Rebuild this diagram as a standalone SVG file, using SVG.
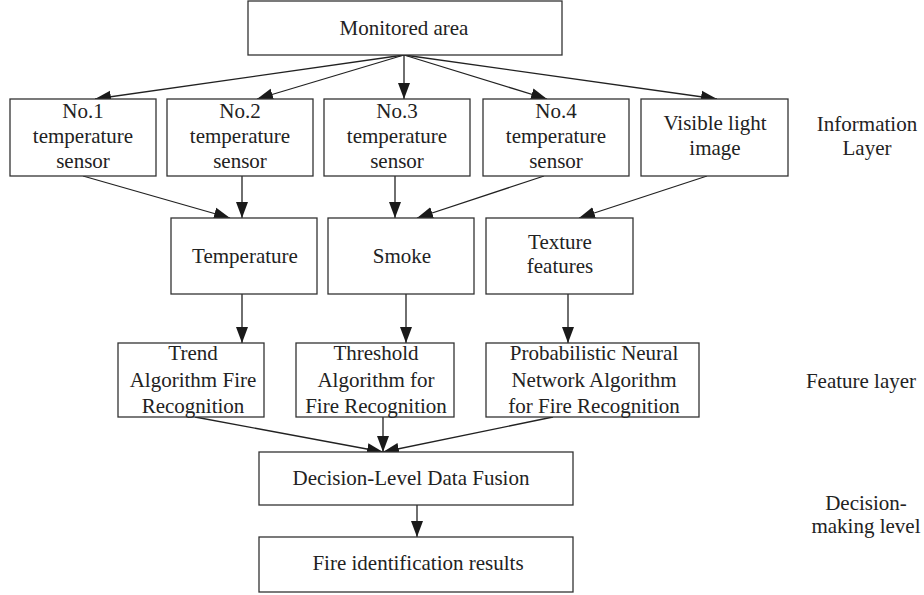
<svg xmlns="http://www.w3.org/2000/svg" width="924" height="595" viewBox="0 0 924 595">
<style>
.box{fill:#fff;stroke:#333;stroke-width:1.3}
.t{font-size:21px;fill:#222;text-anchor:middle}
.c{stroke:#222;stroke-width:1.3;fill:none;marker-end:url(#ah)}
</style>
<defs>
<marker id="ah" markerUnits="userSpaceOnUse" markerWidth="18" markerHeight="14" refX="16" refY="7" orient="auto">
<path d="M0,1 L16,7 L0,13 Z" fill="#1a1a1a"/>
</marker>
</defs>
<rect width="924" height="595" fill="#fff"/>
<g id="connectors">
<line class="c" x1="404" y1="55" x2="95" y2="99"/>
<line class="c" x1="404" y1="55" x2="257" y2="99"/>
<line class="c" x1="404" y1="55" x2="404" y2="99"/>
<line class="c" x1="404" y1="55" x2="547" y2="99"/>
<line class="c" x1="404" y1="55" x2="717" y2="99"/>
<line class="c" x1="83" y1="176" x2="230" y2="218"/>
<line class="c" x1="242" y1="176" x2="242" y2="218"/>
<line class="c" x1="395" y1="176" x2="395" y2="218"/>
<line class="c" x1="544" y1="176" x2="417" y2="218"/>
<line class="c" x1="707" y1="176" x2="579" y2="218"/>
<line class="c" x1="242" y1="294" x2="242" y2="343"/>
<line class="c" x1="406" y1="294" x2="406" y2="343"/>
<line class="c" x1="568" y1="294" x2="568" y2="343"/>
<line class="c" x1="195" y1="417" x2="383" y2="452"/>
<line class="c" x1="383" y1="417" x2="383" y2="452"/>
<line class="c" x1="553" y1="417" x2="383" y2="452"/>
<line class="c" x1="417" y1="505" x2="417" y2="537"/>
</g>
<g font-family="'Liberation Serif', 'DejaVu Serif', serif">
<g id="monitored">
<rect class="box" x="248" y="1" width="314" height="54"/>
<text class="t" x="404" y="35">Monitored area</text>
</g>
<g id="s1">
<rect class="box" x="10" y="99" width="146" height="77"/>
<text class="t" x="83" y="118">No.1</text>
<text class="t" x="83" y="143">temperature</text>
<text class="t" x="83" y="168">sensor</text>
</g>
<g id="s2">
<rect class="box" x="167" y="99" width="146" height="77"/>
<text class="t" x="240" y="118">No.2</text>
<text class="t" x="240" y="143">temperature</text>
<text class="t" x="240" y="168">sensor</text>
</g>
<g id="s3">
<rect class="box" x="324" y="99" width="146" height="77"/>
<text class="t" x="397" y="118">No.3</text>
<text class="t" x="397" y="143">temperature</text>
<text class="t" x="397" y="168">sensor</text>
</g>
<g id="s4">
<rect class="box" x="483" y="99" width="146" height="77"/>
<text class="t" x="556" y="118">No.4</text>
<text class="t" x="556" y="143">temperature</text>
<text class="t" x="556" y="168">sensor</text>
</g>
<g id="visible">
<rect class="box" x="641" y="99" width="147" height="77"/>
<text class="t" x="715" y="130">Visible light</text>
<text class="t" x="715" y="155">image</text>
</g>
<g id="temperature">
<rect class="box" x="171" y="218" width="146" height="76"/>
<text class="t" x="245" y="263">Temperature</text>
</g>
<g id="smoke">
<rect class="box" x="328" y="218" width="146" height="76"/>
<text class="t" x="402" y="263">Smoke</text>
</g>
<g id="texture">
<rect class="box" x="486" y="218" width="147" height="76"/>
<text class="t" x="560" y="249">Texture</text>
<text class="t" x="560" y="273">features</text>
</g>
<g id="trend">
<rect class="box" x="118" y="343" width="146" height="74"/>
<text class="t" x="193" y="360">Trend</text>
<text class="t" x="193" y="387">Algorithm Fire</text>
<text class="t" x="193" y="413">Recognition</text>
</g>
<g id="threshold">
<rect class="box" x="296" y="343" width="158" height="74"/>
<text class="t" x="376" y="360">Threshold</text>
<text class="t" x="376" y="387">Algorithm for</text>
<text class="t" x="376" y="413">Fire Recognition</text>
</g>
<g id="pnn">
<rect class="box" x="486" y="343" width="213" height="74"/>
<text class="t" x="594" y="360">Probabilistic Neural</text>
<text class="t" x="594" y="387">Network Algorithm</text>
<text class="t" x="594" y="413">for Fire Recognition</text>
</g>
<g id="fusion">
<rect class="box" x="259" y="452" width="314" height="53"/>
<text class="t" x="411" y="485">Decision-Level Data Fusion</text>
</g>
<g id="results">
<rect class="box" x="259" y="537" width="314" height="55"/>
<text class="t" x="418" y="570">Fire identification results</text>
</g>
<g id="labels">
<text class="t" x="867" y="131">Information</text>
<text class="t" x="867" y="155">Layer</text>
<text class="t" x="861" y="388">Feature layer</text>
<text class="t" x="866" y="510">Decision-</text>
<text class="t" x="866" y="533">making level</text>
</g>
</g>
</svg>
